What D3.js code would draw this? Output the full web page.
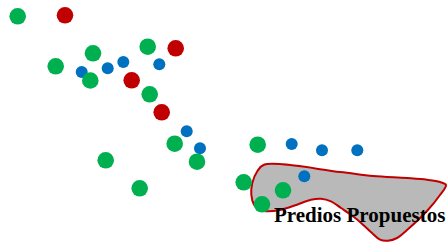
<!DOCTYPE html>
<html>
<head>
<meta charset="utf-8">
<script src="https://cdn.jsdelivr.net/npm/d3@7"></script>
<style>
  html, body { margin: 0; padding: 0; background: #fff; }
  svg { display: block; }
</style>
</head>
<body>
<div id="chart"></div>
<script>
// point positions in map units (0..448 x 0..243)
const greenPts = [
    [17.7, 16.3], [93, 53.3], [147.7, 46.7], [55.7, 66.3], [90.3, 80.5],
    [149.7, 94.3], [174.7, 143.7], [197, 161.7], [105.7, 160.3], [139.7, 188.3],
    [257.7, 144.7], [243.7, 182.3], [283, 190.3], [262, 204.3]
];
const redPts = [
    [65, 15.3], [175.7, 48.3], [131.7, 80.3], [161.7, 112.3]
];
const bluePts = [
    [81.7, 72], [107.7, 68.3], [123.3, 62], [159.3, 64.3], [186.7, 131.3],
    [200, 148.3], [291.7, 144], [322, 150.3], [357.3, 150.3], [304.3, 176.3]
];
const areaOutline = [
    [264, 164.7], [340, 172], [373, 176], [407, 178], [427, 179.7], [440, 182],
    [446, 185], [440, 195], [427, 211], [407, 230], [397, 238], [388, 240.7],
    [380, 239.7], [372, 233], [363, 224.7], [353, 216.3], [341, 208], [331, 201.3],
    [321, 198.7], [311, 199.7], [297, 204.7], [280, 210], [266, 211.3], [259, 209.7],
    [254, 204.7], [251.3, 194.7], [252.3, 183], [257.3, 171.3]
];
const areaLabel = "Predios Propuestos";
const labelPos = [274, 221.5];

const width = 448, height = 243;

const x = d3.scaleLinear().domain([0, 448]).range([0, width]);
const y = d3.scaleLinear().domain([0, 243]).range([0, height]);

const svg = d3.select("#chart")
    .append("svg")
    .attr("width", width)
    .attr("height", height);

const line = d3.line()
    .x(d => x(d[0]))
    .y(d => y(d[1]))
    .curve(d3.curveCatmullRomClosed.alpha(0.5));

svg.append("path")
    .attr("d", line(areaOutline))
    .attr("fill", "#b9b9b9")
    .attr("stroke", "#c00000")
    .attr("stroke-width", 2);

function dots(data, color, r) {
    svg.append("g")
        .selectAll("circle")
        .data(data)
        .join("circle")
        .attr("cx", d => x(d[0]))
        .attr("cy", d => y(d[1]))
        .attr("r", r)
        .attr("fill", color);
}

// blue first, green sits over blue
dots(bluePts, "#0070c0", 6);
dots(greenPts, "#00b050", 8.3);
dots(redPts, "#c00000", 8.3);

svg.append("text")
    .attr("x", x(labelPos[0]))
    .attr("y", y(labelPos[1]))
    .attr("font-family", "Liberation Serif, Times New Roman, serif")
    .attr("font-weight", "bold")
    .attr("font-size", 21)
    .attr("fill", "#000")
    .text(areaLabel);
</script>
</body>
</html>
